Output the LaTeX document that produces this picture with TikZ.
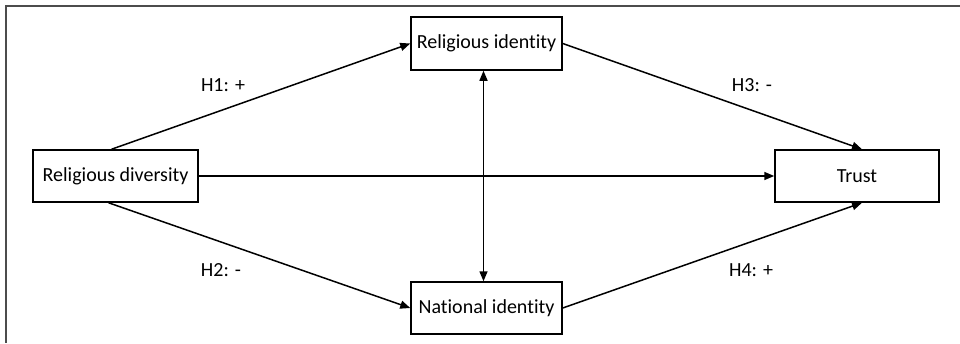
\documentclass[tikz,border=0pt]{standalone}
\usepackage{fontspec}
\setmainfont[Ligatures=NoCommon]{Carlito}
\usetikzlibrary{arrows.meta}
\begin{document}
\begin{tikzpicture}[x=1pt,y=-1pt,
  box/.style={draw,line width=1.5pt,inner sep=0pt,font=\fontsize{20}{24}\selectfont},
  conn/.style={line width=1.5pt,-{Triangle[length=10pt,width=8pt]}},
  lab/.style={font=\fontsize{20}{24}\selectfont,inner sep=0pt}]
\useasboundingbox (0,0) rectangle (960,343);
\draw[line width=1.5pt,gray!60!black] (960,6) -- (6,6) -- (6,343);
\node[box,minimum width=165pt,minimum height=52pt] (rd) at (115.5,176) {Religious diversity};
\node[box,minimum width=151pt,minimum height=53pt] (ri) at (486.5,43.5) {Religious identity};
\node[box,minimum width=151pt,minimum height=52pt] (ni) at (486.5,308) {National identity};
\node[box,minimum width=164pt,minimum height=52pt] (tr) at (857,176) {Trust};
\draw[conn] ([xshift=-4pt]rd.north) -- (ri.west);
\draw[conn] ([xshift=-7pt]rd.south) -- (ni.west);
\draw[conn] (rd.east) -- (tr.west);
\draw[conn] (ri.east) -- ([xshift=5pt]tr.north);
\draw[conn] (ni.east) -- ([xshift=5pt]tr.south);
\draw[line width=1.5pt,{Triangle[length=10pt,width=8pt]}-{Triangle[length=10pt,width=8pt]}] ([xshift=-3pt]ri.south) -- ([xshift=-3pt]ni.north);
\node[lab] (h1) at (223,85) {H1: +};
\node[lab] (h2) at (221,270) {H2: -};
\node[lab] (h3) at (752,85) {H3: -};
\node[lab] (h4) at (751,270) {H4: +};
\end{tikzpicture}
\end{document}
